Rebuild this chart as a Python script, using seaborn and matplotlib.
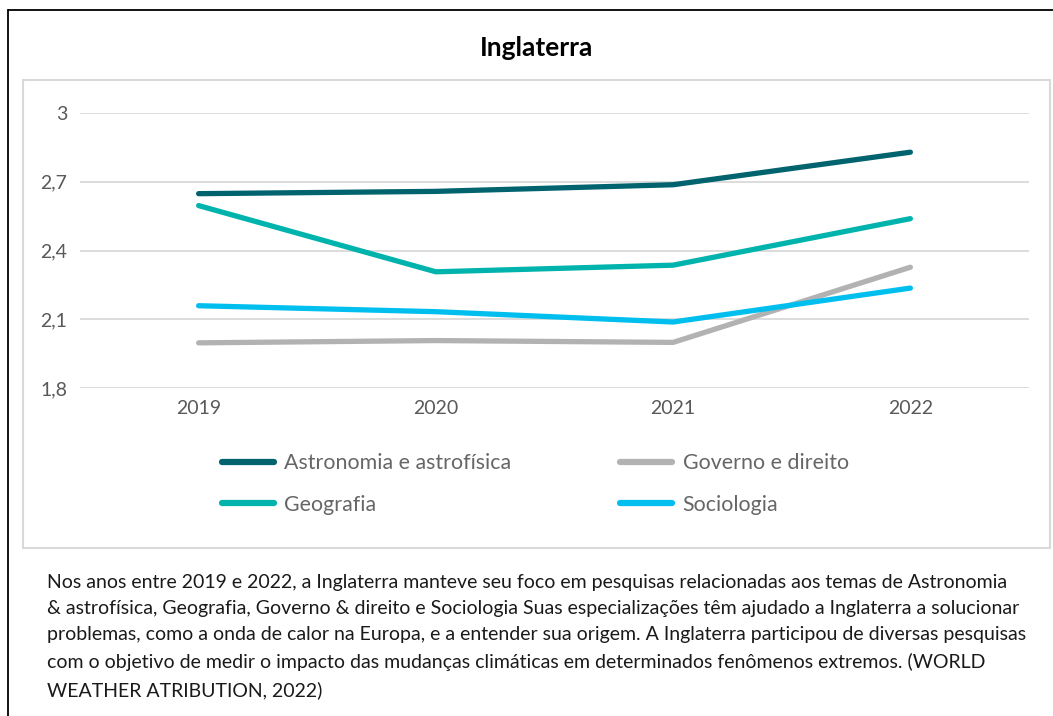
import pandas as pd
import matplotlib.pyplot as plt
import seaborn as sns
from matplotlib.patches import Rectangle
from matplotlib.lines import Line2D

# dados
anos = ['2019', '2020', '2021', '2022']
astronomia = [2.648, 2.658, 2.687, 2.829]
geografia = [2.596, 2.307, 2.336, 2.539]
governo = [1.997, 2.007, 1.999, 2.327]
sociologia = [2.159, 2.133, 2.088, 2.236]

series = ['Astronomia e astrofísica', 'Geografia', 'Governo e direito', 'Sociologia']
cores = ['#00636E', '#00B4AD', '#B2B2B2', '#00BFEF']
yticks = [1.8, 2.1, 2.4, 2.7, 3.0]
ylabels = ['1,8', '2,1', '2,4', '2,7', '3']

legenda = ("Nos anos entre 2019 e 2022, a Inglaterra manteve seu foco em pesquisas relacionadas aos temas de Astronomia\n"
           "& astrofísica, Geografia, Governo & direito e Sociologia Suas especializações têm ajudado a Inglaterra a solucionar\n"
           "problemas, como a onda de calor na Europa, e a entender sua origem. A Inglaterra participou de diversas pesquisas\n"
           "com o objetivo de medir o impacto das mudanças climáticas em determinados fenômenos extremos. (WORLD\n"
           "WEATHER ATRIBUTION, 2022)")

df = pd.DataFrame({
    'Ano': anos * 4,
    'Valor': astronomia + geografia + governo + sociologia,
    'Serie': [s for s in series for _ in anos],
})

sns.set_theme(style='white')
plt.rcParams['font.family'] = ['Lato', 'DejaVu Sans']

W, H = 1053, 716
fig = plt.figure(figsize=(W / 100, H / 100), dpi=100)
ax = fig.add_axes([80 / W, 1 - 388 / H, (1029 - 80) / W, (388 - 113) / H])

sns.lineplot(data=df, x='Ano', y='Valor', hue='Serie', hue_order=series,
             palette=cores, linewidth=3.8, ax=ax, legend=False,
             solid_capstyle='round')

ax.set_xlim(-0.5, 3.5)
ax.set_ylim(1.8, 3.0)
ax.set_yticks(yticks)
ax.set_yticklabels(ylabels)
ax.yaxis.grid(True, color='#D9D9D9', linewidth=1.3)
ax.set_axisbelow(True)
for s in ax.spines.values():
    s.set_visible(False)
ax.tick_params(axis='both', length=0, labelsize=14, colors='#595959')
ax.tick_params(axis='y', pad=9)
ax.tick_params(axis='x', pad=9)
ax.set_xlabel('')
ax.set_ylabel('')

handles = [Line2D([0], [0], color=c, linewidth=4.5, solid_capstyle='round') for c in cores]
fig.legend(handles, series, ncol=2, loc='center left',
           bbox_to_anchor=(203 / W, 1 - 484 / H), frameon=False,
           fontsize=15.4, labelcolor='#666666', handlelength=2.4,
           handletextpad=0.5, columnspacing=5.1, labelspacing=1.0)

fig.text(537 / W, 1 - 48 / H, 'Inglaterra', ha='center', va='center',
         fontsize=19, fontweight='bold', color='black')

# moldura
fig.add_artist(Rectangle((23 / W, 1 - 548 / H), (1050 - 23) / W, (548 - 80) / H,
                         transform=fig.transFigure, fill=False,
                         edgecolor='#D9D9D9', linewidth=1.5))
fig.add_artist(Line2D([8 / W, 1], [1 - 10 / H, 1 - 10 / H], transform=fig.transFigure,
                      color='black', linewidth=1.3))
fig.add_artist(Line2D([8 / W, 8 / W], [0, 1 - 10 / H], transform=fig.transFigure,
                      color='black', linewidth=1.3))

fig.text(47 / W, 1 - 574 / H, legenda, ha='left', va='top', fontsize=14.0,
         color='#1a1a1a', linespacing=1.66)

fig.savefig('out.png', dpi=100)
